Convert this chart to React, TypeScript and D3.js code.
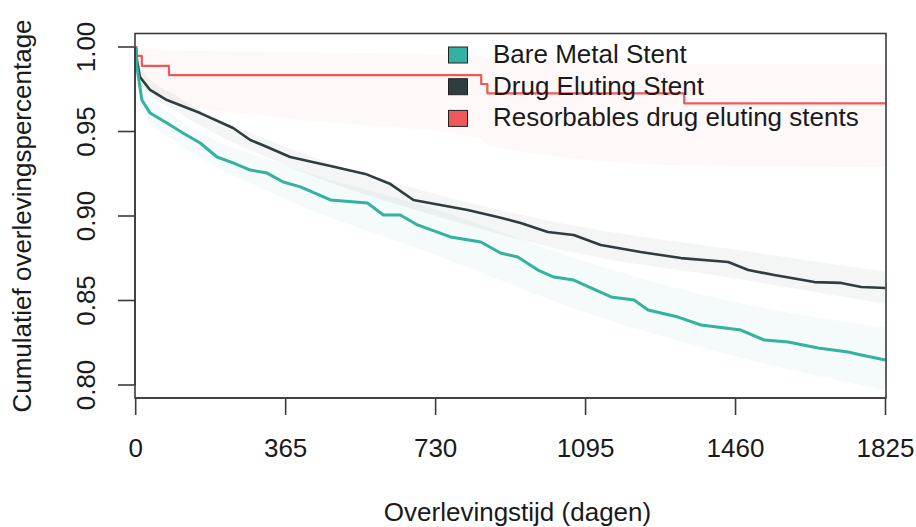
import React from "react";
import * as d3 from "d3";

// ---- data ----
const categories = ["Bare Metal Stent", "Drug Eluting Stent", "Resorbables drug eluting stents"];
const lineColors = ["#33B2A1", "#2D3D40", "#EF5959"];
const bandFills = ["rgba(51,178,161,0.055)", "rgba(45,61,64,0.05)", "rgba(239,89,89,0.04)"];
const xTicks = [0, 365, 730, 1095, 1460, 1825];
const yTicks = [0.8, 0.85, 0.9, 0.95, 1.0];
const xTitle = "Overlevingstijd (dagen)";
const yTitle = "Cumulatief overlevingspercentage";

const bmsDays = [0, 3, 15, 35, 76, 115, 157, 198, 237, 279, 320, 359, 401, 474, 564, 603, 644, 686, 766, 840, 888, 930, 979, 1018, 1066, 1157, 1213, 1247, 1320, 1376, 1473, 1530, 1588, 1661, 1734, 1766, 1825];
const bmsSurv = [1.0, 0.9882, 0.9686, 0.9609, 0.955, 0.9491, 0.9432, 0.9349, 0.9314, 0.9272, 0.9254, 0.9201, 0.9172, 0.9095, 0.9077, 0.9006, 0.9006, 0.8947, 0.8876, 0.8846, 0.8781, 0.8757, 0.868, 0.8639, 0.8621, 0.8521, 0.8503, 0.8444, 0.8402, 0.8355, 0.8325, 0.8266, 0.8254, 0.8219, 0.8195, 0.8178, 0.8148];

const desDays = [0, 3, 10, 35, 76, 157, 237, 279, 320, 376, 474, 559, 620, 676, 742, 808, 881, 937, 1003, 1066, 1132, 1229, 1327, 1442, 1491, 1554, 1652, 1717, 1766, 1825];
const desSurv = [1.0, 0.9923, 0.9824, 0.9746, 0.9686, 0.9609, 0.9521, 0.945, 0.9408, 0.9349, 0.9296, 0.9249, 0.9189, 0.9095, 0.9065, 0.9036, 0.8994, 0.8959, 0.8905, 0.8888, 0.8828, 0.8787, 0.8751, 0.8728, 0.868, 0.8651, 0.8609, 0.8604, 0.858, 0.8574];

const rdsDays = [0, 2, 15, 81, 841, 856, 1335, 1825];
const rdsSurv = [1.0, 0.9947, 0.9888, 0.9834, 0.9781, 0.9726, 0.9667, 0.9667];

const bandDays = [0, 5, 20, 100, 365, 730, 1095, 1460, 1825];
const bmsUpper = [1.0, 0.992, 0.975, 0.958, 0.93, 0.904, 0.873, 0.849, 0.834];
const bmsLower = [1.0, 0.982, 0.96, 0.944, 0.91, 0.877, 0.843, 0.817, 0.797];
const desUpper = [1.0, 0.994, 0.985, 0.971, 0.941, 0.913, 0.893, 0.88, 0.867];
const desLower = [1.0, 0.986, 0.976, 0.962, 0.93, 0.9, 0.877, 0.863, 0.848];

const rdsBandDays = [0, 15, 81, 365, 841, 856, 1335, 1825];
const rdsUpper = [1.0, 0.999, 0.998, 0.997, 0.995, 0.993, 0.99, 0.99];
const rdsLower = [0.99, 0.978, 0.968, 0.958, 0.946, 0.942, 0.93, 0.929];

const W = 916;
const H = 527;
const FONT = "'Liberation Sans', Arial, sans-serif";

export default function App() {
  const x = d3.scaleLinear().domain([0, 1825]).range([135.7, 885.5]);
  const y = d3.scaleLinear().domain([0.8, 1.0]).range([385, 47]);
  const boxL = 135, boxR = 886, boxT = 33.5, boxB = 398;

  const line = (curve: d3.CurveFactory) =>
    d3.line<[number, number]>().x((d) => x(d[0])).y((d) => y(d[1])).curve(curve);
  const area = (curve: d3.CurveFactory) =>
    d3.area<[number, number, number]>().x((d) => x(d[0])).y0((d) => y(d[1])).y1((d) => y(d[2])).curve(curve);

  const zip2 = (a: number[], b: number[]) => a.map((v, i) => [v, b[i]] as [number, number]);
  const zip3 = (a: number[], b: number[], c: number[]) => a.map((v, i) => [v, b[i], c[i]] as [number, number, number]);

  const bandPaths = [
    area(d3.curveMonotoneX)(zip3(rdsBandDays, rdsLower, rdsUpper)),
    area(d3.curveMonotoneX)(zip3(bandDays, desLower, desUpper)),
    area(d3.curveMonotoneX)(zip3(bandDays, bmsLower, bmsUpper)),
  ];
  const bandCols = [bandFills[2], bandFills[1], bandFills[0]];

  const linePaths = [
    { d: line(d3.curveLinear)(zip2(bmsDays, bmsSurv)), c: lineColors[0], w: 3 },
    { d: line(d3.curveLinear)(zip2(desDays, desSurv)), c: lineColors[1], w: 2.6 },
    { d: line(d3.curveStepAfter)(zip2(rdsDays, rdsSurv)), c: lineColors[2], w: 2.2 },
  ];

  const axisCol = "#3a3a3a";

  return (
    <svg width={W} height={H} style={{ position: "absolute", left: 0, top: 0, background: "#fff" }} fontFamily={FONT}>
      <defs>
        <clipPath id="plotclip">
          <rect x={boxL} y={boxT} width={boxR - boxL} height={boxB - boxT} />
        </clipPath>
      </defs>
      <g clipPath="url(#plotclip)">
        {bandPaths.map((d, i) => (
          <path key={i} d={d || ""} fill={bandCols[i]} stroke="none" />
        ))}
        {linePaths.slice().reverse().map((p, i) => (
          <path key={i} d={p.d || ""} fill="none" stroke={p.c} strokeWidth={p.w} strokeLinejoin="round" />
        ))}
      </g>
      {/* box */}
      <rect x={boxL} y={boxT} width={boxR - boxL} height={boxB - boxT} fill="none" stroke={axisCol} strokeWidth={1.6} />
      {/* y axis */}
      <line x1={boxL} x2={boxL} y1={y(0.8)} y2={y(1.0)} stroke={axisCol} strokeWidth={1.6} />
      {yTicks.map((t) => (
        <g key={t}>
          <line x1={boxL - 17} x2={boxL} y1={y(t)} y2={y(t)} stroke={axisCol} strokeWidth={1.6} />
          <text
            transform={`translate(95,${y(t)}) rotate(-90)`}
            textAnchor="middle"
            fontSize={26}
            fill="#1a1a1a"
          >
            {t.toFixed(2)}
          </text>
        </g>
      ))}
      {/* x axis */}
      <line x1={x(0)} x2={x(1825)} y1={boxB} y2={boxB} stroke={axisCol} strokeWidth={1.6} />
      {xTicks.map((t) => (
        <g key={t}>
          <line x1={x(t)} x2={x(t)} y1={boxB} y2={boxB + 17} stroke={axisCol} strokeWidth={1.6} />
          <text x={x(t)} y={457} textAnchor="middle" fontSize={26} fill="#1a1a1a">
            {t}
          </text>
        </g>
      ))}
      <text x={(boxL + boxR) / 2 + 7} y={521} textAnchor="middle" fontSize={26} fill="#1a1a1a">
        {xTitle}
      </text>
      <text transform={`translate(31,216) rotate(-90)`} textAnchor="middle" fontSize={26} fill="#1a1a1a">
        {yTitle}
      </text>
      {/* legend */}
      {categories.map((c, i) => (
        <g key={c}>
          <rect x={448.5} y={47 + i * 31.7} width={19} height={16} fill={lineColors[i]} stroke="#222" strokeWidth={1} />
          <text x={493} y={63 + i * 31.7} fontSize={26} fill="#1a1a1a">
            {c}
          </text>
        </g>
      ))}
    </svg>
  );
}
